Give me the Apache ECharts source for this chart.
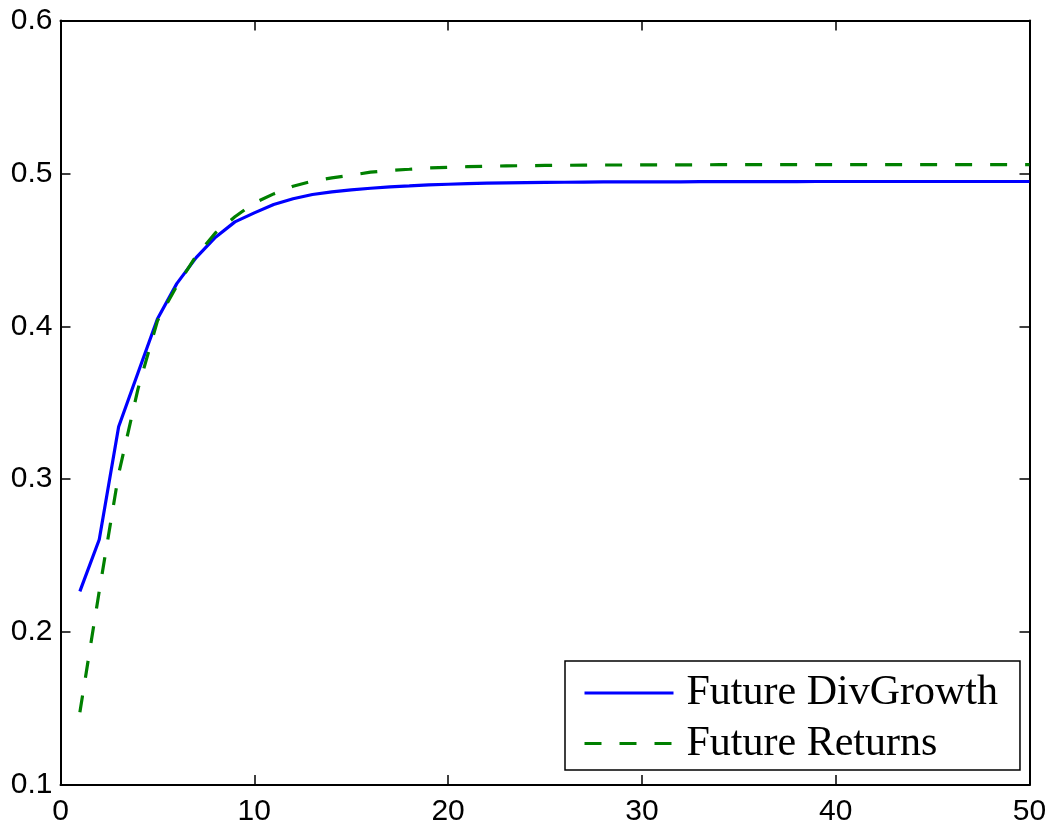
<!DOCTYPE html>
<html>
<head>
<meta charset="utf-8">
<script src="https://cdn.jsdelivr.net/npm/echarts@6/dist/echarts.min.js"></script>
<style>
html,body{margin:0;padding:0;background:#fff;}
#chart{width:1054px;height:827px;}
</style>
</head>
<body>
<div id="chart"></div>
<script>
// Horizon (periods 1..50)
const horizons = [];
for (let i = 1; i <= 50; i++) horizons.push(i);

const divGrowth = [
  0.2266, 0.2606, 0.3343, 0.3696, 0.4048, 0.4279, 0.4449, 0.4583, 0.4683, 0.4742,
  0.4797, 0.4834, 0.4862, 0.4879, 0.4892, 0.4903, 0.4912, 0.4918, 0.4925, 0.4929,
  0.4933, 0.4936, 0.4938, 0.4940, 0.4941, 0.4942, 0.4943, 0.4944, 0.4944, 0.4945,
  0.4945, 0.4945, 0.4946, 0.4946, 0.4946, 0.4946, 0.4946, 0.4946, 0.4947, 0.4947,
  0.4947, 0.4947, 0.4947, 0.4947, 0.4947, 0.4947, 0.4947, 0.4947, 0.4947, 0.4947
];

const returns = [
  0.1476, 0.2268, 0.3034, 0.3591, 0.4035, 0.4264, 0.4460, 0.4612, 0.4716, 0.4807,
  0.4866, 0.4916, 0.4949, 0.4971, 0.4988, 0.5008, 0.5019, 0.5027, 0.5036, 0.5040,
  0.5044, 0.5047, 0.5049, 0.5051, 0.5052, 0.5053, 0.5054, 0.5055, 0.5055, 0.5056,
  0.5056, 0.5056, 0.5056, 0.5057, 0.5057, 0.5057, 0.5057, 0.5057, 0.5057, 0.5057,
  0.5057, 0.5057, 0.5057, 0.5057, 0.5057, 0.5057, 0.5057, 0.5057, 0.5057, 0.5057
];

const seriesNames = ['Future DivGrowth', 'Future Returns'];
const xTicks = { min: 0, max: 50, interval: 10 };
const yTicks = { min: 0.1, max: 0.6, interval: 0.1 };

const pairs = (vals) => horizons.map((h, i) => [h, vals[i]]);

const chart = echarts.init(document.getElementById('chart'), null, { renderer: 'canvas' });

const labelFont = { fontFamily: 'Liberation Sans, Arial, sans-serif', fontSize: 30, color: '#000' };
const axisLine = { show: true, onZero: false, lineStyle: { color: '#000', width: 2 } };
const tickIn = { show: true, inside: true, length: 10, lineStyle: { color: '#000', width: 1.5 } };

chart.setOption({
  animation: false,
  backgroundColor: '#fff',
  grid: { left: 60.5, right: 24.5, top: 20.5, bottom: 42, containLabel: false },
  xAxis: [
    {
      type: 'value', position: 'bottom', min: xTicks.min, max: xTicks.max, interval: xTicks.interval,
      axisLine: axisLine, axisTick: tickIn, splitLine: { show: false },
      axisLabel: Object.assign({ margin: 12, showMinLabel: true, showMaxLabel: true }, labelFont)
    },
    {
      type: 'value', position: 'top', min: xTicks.min, max: xTicks.max, interval: xTicks.interval,
      axisLine: axisLine, axisTick: tickIn, splitLine: { show: false },
      axisLabel: { show: false }
    }
  ],
  yAxis: [
    {
      type: 'value', position: 'left', min: yTicks.min, max: yTicks.max, interval: yTicks.interval,
      axisLine: axisLine, axisTick: tickIn, splitLine: { show: false },
      axisLabel: Object.assign({ margin: 8, showMinLabel: true, showMaxLabel: true,
        formatter: (v) => v.toFixed(1) }, labelFont)
    },
    {
      type: 'value', position: 'right', min: yTicks.min, max: yTicks.max, interval: yTicks.interval,
      axisLine: axisLine, axisTick: tickIn, splitLine: { show: false },
      axisLabel: { show: false }
    }
  ],
  legend: {
    orient: 'vertical',
    left: 565, top: 661,
    padding: [11, 22, 5.5, 18],
    itemGap: 8.5,
    itemWidth: 89,
    itemHeight: 14,
    backgroundColor: '#fff',
    borderColor: '#000',
    borderWidth: 1.5,
    borderRadius: 0,
    lineStyle: { width: 3 },
    itemStyle: { opacity: 0 },
    textStyle: { fontFamily: 'Liberation Serif, Times New Roman, serif', fontSize: 42, color: '#000', lineHeight: 40, padding: [0, 0, 0, 8] },
    data: seriesNames
  },
  series: [
    {
      name: seriesNames[0], type: 'line', xAxisIndex: 0, yAxisIndex: 0,
      data: pairs(divGrowth), symbol: 'none', smooth: false,
      lineStyle: { color: '#0000ff', width: 3.2 }, itemStyle: { color: '#0000ff' }
    },
    {
      name: seriesNames[1], type: 'line', xAxisIndex: 0, yAxisIndex: 0,
      data: pairs(returns), symbol: 'none', smooth: false,
      lineStyle: { color: '#008000', width: 3.2, type: [17, 18] }, itemStyle: { color: '#008000' }
    }
  ]
});
</script>
</body>
</html>
